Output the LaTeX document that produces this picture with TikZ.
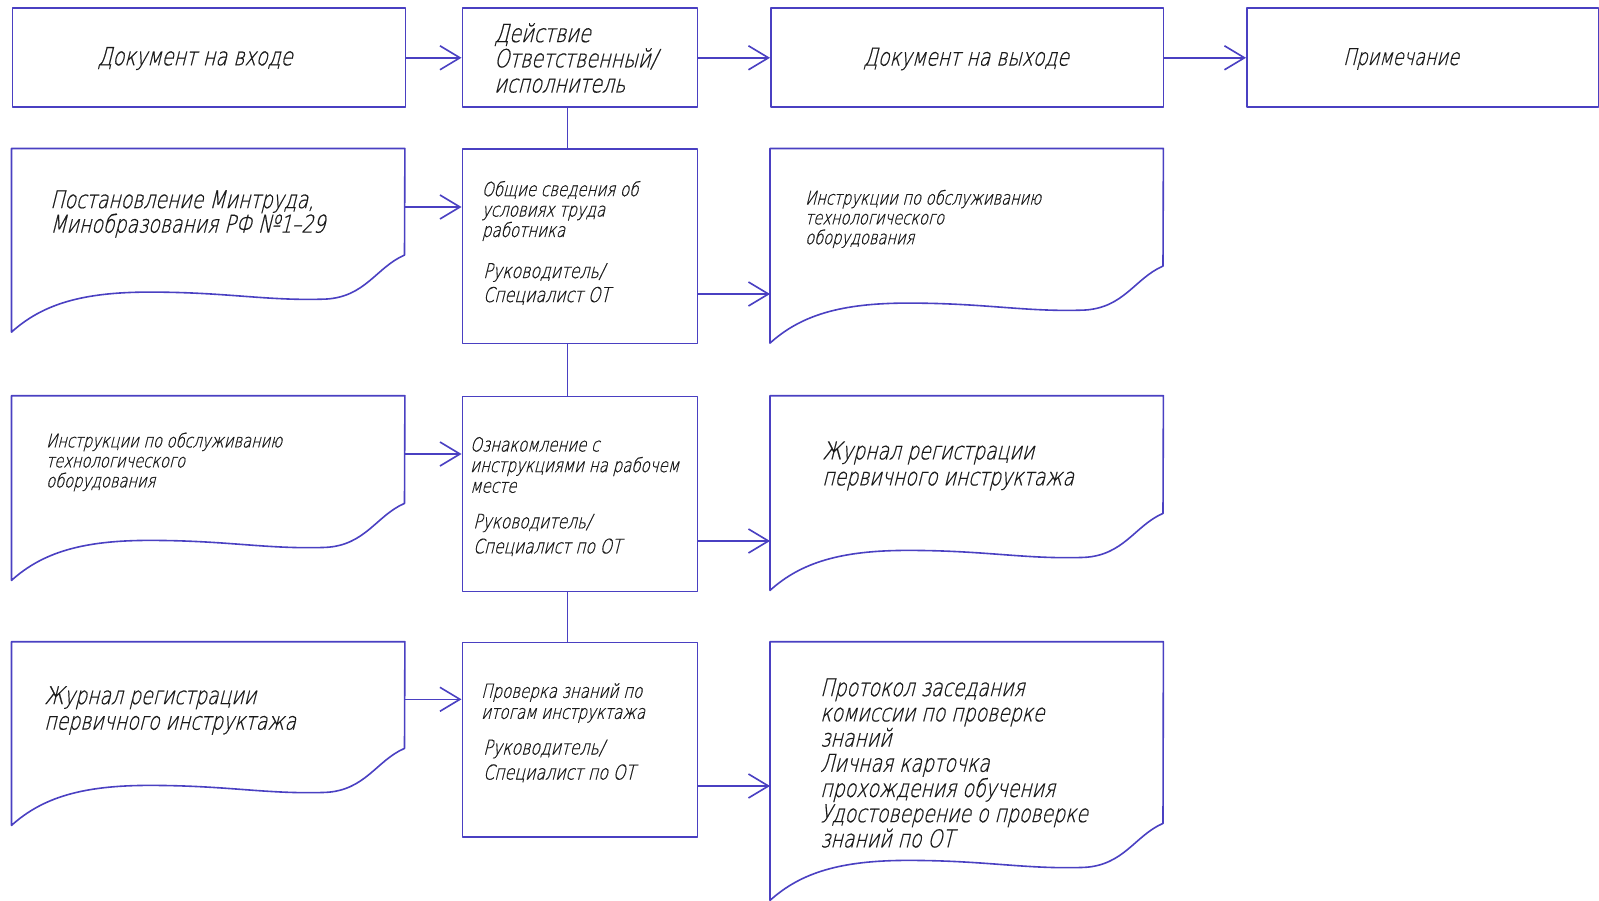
\documentclass[tikz,border=0pt]{standalone}
\usepackage{fontspec}
\newfontfamily\gost{DejaVu Sans ExtraLight}[FakeSlant=0.25,FakeStretch=0.77,FakeBold=0.6]
\usetikzlibrary{arrows.meta}
\definecolor{lineblue}{RGB}{74,64,194}
\definecolor{ink}{RGB}{25,25,25}

% font of a given size and fixed line pitch
\newcommand\gostsize[2]{\gost\fontsize{#1}{#2}\selectfont\lineskiplimit=-100pt\lineskip=0pt}

% outline of a "document" symbol around a named frame node
\newcommand\docoutline[1]{%
  \draw[edgeline] ([shift={(393,-77)}]#1.south west) -- (#1.north east) -- (#1.north west) -- (#1.south west)
    .. controls ([shift={(31,-28)}]#1.south west) and ([shift={(71,-40)}]#1.south west) .. ([shift={(138,-40)}]#1.south west)
    .. controls ([shift={(216,-40)}]#1.south west) and ([shift={(255,-31)}]#1.south west) .. ([shift={(314,-33)}]#1.south west)
    .. controls ([shift={(354,-35)}]#1.south west) and ([shift={(365,-65)}]#1.south west) .. cycle;}

\begin{document}
\begin{tikzpicture}[x=1pt,y=-1pt,
  edgeline/.style={draw=lineblue, line width=1.6pt, line join=round},
  arr/.style={edgeline, -{Straight Barb[length=20pt,width=24pt]}},
  procbox/.style={edgeline, rectangle, inner sep=0pt, anchor=north west},
  docframe/.style={rectangle, inner sep=0pt, anchor=north west},
  txt/.style={text=ink, align=left, inner sep=0pt, anchor=west},
]
\useasboundingbox (0,0) rectangle (1599,901);

% header row
\node[procbox, minimum width=393pt, minimum height=99pt] (in) at (11.5,7.5) {};
\node[procbox, minimum width=235pt, minimum height=99pt] (m1) at (461.5,7.5) {};
\node[procbox, minimum width=392.5pt, minimum height=99pt] (out) at (770,7.5) {};
\node[procbox, minimum width=351.5pt, minimum height=99pt] (note) at (1246,7.5) {};

\node[txt, font=\gostsize{25}{26}, anchor=center] (tin) at (195,58.5) {Документ на входе};
\node[txt, font=\gostsize{25}{25.2}] (tm1) at (494,58) {Действие\\Ответственный/\\исполнитель};
\node[txt, font=\gostsize{24.5}{26}, anchor=center] (tout) at (966,59) {Документ на выходе};
\node[txt, font=\gostsize{23}{26}, anchor=center] (tnote) at (1401,59) {Примечание};

% process boxes
\node[procbox, minimum width=235pt, minimum height=194.2pt] (m2) at (461.5,148.5) {};
\node[procbox, minimum width=235pt, minimum height=195pt] (m3) at (461.5,395.7) {};
\node[procbox, minimum width=235pt, minimum height=194.3pt] (m4) at (461.5,641.7) {};

% input documents
\node[docframe, minimum width=393pt, minimum height=183.2pt] (d2l) at (11.5,148.5) {};
\node[docframe, minimum width=393pt, minimum height=184.3pt] (d3l) at (11.5,395.7) {};
\node[docframe, minimum width=393pt, minimum height=183.3pt] (d4l) at (11.5,641.7) {};
% output documents
\node[docframe, minimum width=393pt, minimum height=194.2pt] (d2r) at (770,148.5) {};
\node[docframe, minimum width=393pt, minimum height=194.3pt] (d3r) at (770,395.7) {};
\node[docframe, minimum width=393pt, minimum height=258.3pt] (d4r) at (770,641.7) {};

\docoutline{d2l}
\docoutline{d3l}
\docoutline{d4l}
\docoutline{d2r}
\docoutline{d3r}
\docoutline{d4r}

% texts
\node[txt, font=\gostsize{24.5}{24.5}] (t2l) at (50,214) {Постановление Минтруда,\\Минобразования РФ №1–29};
\node[txt, font=\gostsize{19.5}{20.4}] (t2a) at (481.7,211) {Общие сведения об\\условиях труда\\работника};
\node[txt, font=\gostsize{20.5}{24}] (t2b) at (483,284) {Руководитель/\\Специалист ОТ};
\node[txt, font=\gostsize{19}{19.8}] (t2r) at (805,219) {Инструкции по обслуживанию\\технологического\\оборудования};

\node[txt, font=\gostsize{19}{20}] (t3l) at (46,462) {Инструкции по обслуживанию\\технологического\\оборудования};
\node[txt, font=\gostsize{19.5}{20.6}] (t3a) at (470,465) {Ознакомление с\\инструкциями на рабочем\\месте};
\node[txt, font=\gostsize{20}{25}] (t3b) at (473,535) {Руководитель/\\Специалист по ОТ};
\node[txt, font=\gostsize{24.5}{26}] (t3r) at (822,466) {Журнал регистрации\\первичного инструктажа};

\node[txt, font=\gostsize{24.5}{25.5}] (t4l) at (44,710.5) {Журнал регистрации\\первичного инструктажа};
\node[txt, font=\gostsize{19.5}{21}] (t4a) at (481,703) {Проверка знаний по\\итогам инструктажа};
\node[txt, font=\gostsize{20.5}{25}] (t4b) at (483,761) {Руководитель/\\Специалист по ОТ};
\node[txt, font=\gostsize{24.5}{25.2}] (t4r) at (820,763) {Протокол заседания\\комиссии по проверке\\знаний\\Личная карточка\\прохождения обучения\\Удостоверение о проверке\\знаний по ОТ};

% header arrows
\draw[arr] (in.east) -- (m1.west);
\draw[arr] (m1.east) -- (out.west);
\draw[arr] (out.east) -- (note.west);

% vertical chain of actions
\draw[edgeline] ([xshift=-12.5pt]m1.south) -- ([xshift=-12.5pt]m2.north);
\draw[edgeline] ([xshift=-12.5pt]m2.south) -- ([xshift=-12.5pt]m3.north);
\draw[edgeline] ([xshift=-12.5pt]m3.south) -- ([xshift=-12.5pt]m4.north);

% inputs to actions
\draw[arr] ([yshift=-58.5pt]d2l.north east) -- ([yshift=-58.5pt]m2.north west);
\draw[arr] ([yshift=-58.3pt]d3l.north east) -- ([yshift=-58.3pt]m3.north west);
\draw[arr] ([yshift=-57.6pt]d4l.north east) -- ([yshift=-57.6pt]m4.north west);

% actions to outputs
\draw[arr] ([yshift=-145.5pt]m2.north east) -- ([yshift=-145.5pt]d2r.north west);
\draw[arr] ([yshift=-145.3pt]m3.north east) -- ([yshift=-145.3pt]d3r.north west);
\draw[arr] ([yshift=-144.3pt]m4.north east) -- ([yshift=-144.3pt]d4r.north west);
\end{tikzpicture}
\end{document}
